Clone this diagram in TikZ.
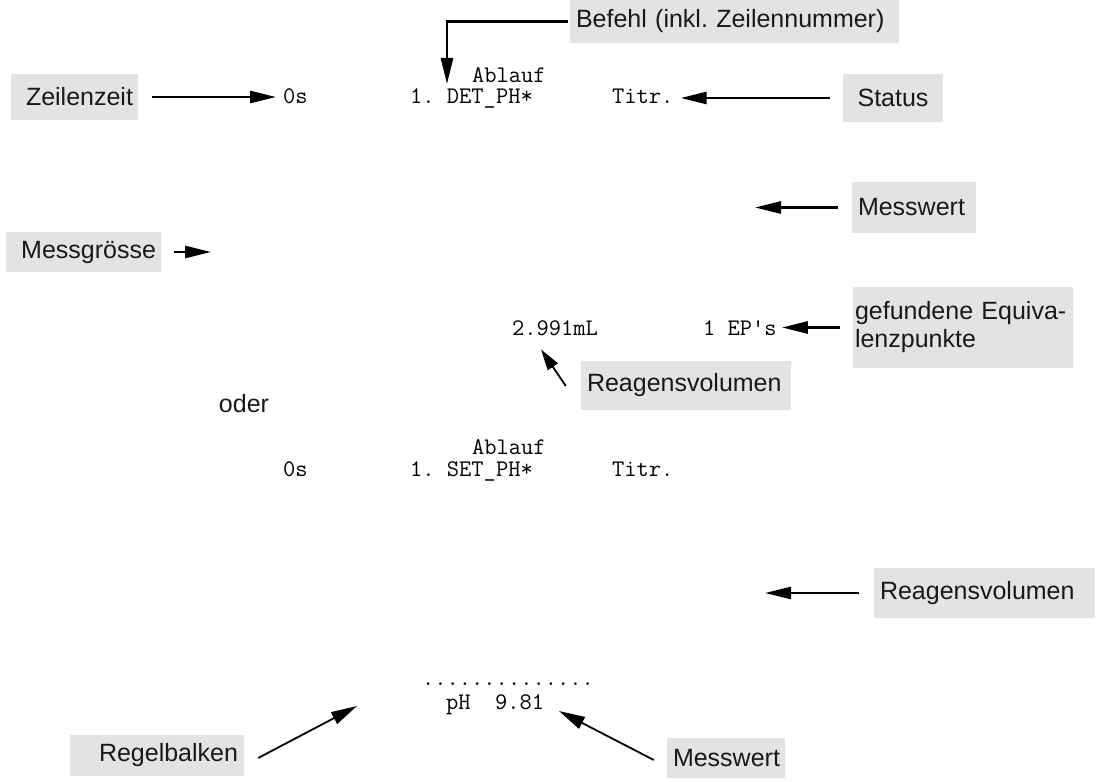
\documentclass[tikz,border=0pt]{standalone}
\usepackage{fontspec}
\setmainfont{Liberation Sans}
\usetikzlibrary{arrows.meta,calc,positioning}

\begin{document}
\frenchspacing
\begin{tikzpicture}[x=1pt, y=-1pt, >={Triangle[length=26pt,width=12pt]},
	lbl/.style={fill=black!11, inner ysep=0pt, inner xsep=6pt, text=black!90, font=\fontsize{25}{28}\selectfont},
	disp/.style={inner sep=0pt, anchor=base west, font=\ttfamily\fontsize{23.8}{26}\selectfont},
	pfeil/.style={line width = 2.6pt, ->},
	pfeilb/.style={line width = 1.8pt, -{Triangle[length=26pt,width=13pt]}}]
	\useasboundingbox (0,0) rectangle (1099,781);

		% Anzeige waehrend DET_PH
		\node (abl1) at (472,83) [disp] {Ablauf};
		\node (t0s) at (283,104) [disp] {0s};
		\node (cmd1) at (410,104) [disp] {1. DET\_PH*};
		\node (titr1) at (612,104) [disp] {Titr.};
		\node (vol) at (512,335) [disp] {2.991mL};
		\node (eps) at (703,335) [disp] {1 EP\textquotesingle s};

		\node (befehl) at (734.5,21.5) [lbl, text width = 317pt, minimum height = 43pt, align = left] {Befehl (inkl. Zeilennummer)};
		\node (zeit) at (74.5,97) [lbl, text width = 117pt, minimum height = 46pt, inner xsep = 5pt, align = right] {Zeilenzeit};
		\node (status) at (893,98) [lbl, text width = 88pt, minimum height = 48pt, align = center] {Status};
		\node (messw1) at (914,207.5) [lbl, text width = 112pt, minimum height = 51pt, align = left] {Messwert};
		\node (messgr) at (83.5,252) [lbl, text width = 145pt, minimum height = 40pt, inner xsep = 5pt, align = right] {Messgr\"osse};
		\node (equiv) at (963,327.5) [lbl, text width = 216pt, minimum height = 81pt, inner xsep = 2pt, align = left] {gefundene Equiva-\\lenzpunkte};
		\node (reag1) at (686,385.5) [lbl, text width = 198pt, minimum height = 49pt, align = left] {Reagensvolumen};

		\coordinate (cmdtip) at (447,84);
		\coordinate (mwtip1) at (755,207.5);
		\coordinate (mgtip) at (211,252);

		\draw [pfeil, shorten <= 2pt] (befehl.west) -| (cmdtip);
		\draw [pfeil, shorten <= 14pt, shorten >= 7pt] (zeit.east) -- (zeit.east -| t0s.west);
		\draw [pfeil, shorten <= 13pt, shorten >= 7pt] (status.west) -- (status.west -| titr1.east);
		\draw [pfeil, shorten <= 14pt] (messw1.west) -- (mwtip1);
		\draw [pfeil, shorten <= 13pt] (messgr.east) -- (mgtip);
		\draw [pfeil, shorten <= 13pt, shorten >= 5pt] (equiv.west) -- (equiv.west -| eps.east);
		\draw [pfeilb, -{Triangle[length=21pt,width=12pt]}] ($(reag1.west)+(-15,0.5)$) -- ($(vol.south)+(-14,14)$);

		\node (oder) at (244,404) [font=\fontsize{25}{28}\selectfont, text=black!90] {oder};

		% Anzeige waehrend SET_PH
		\node (abl2) at (472,454) [disp] {Ablauf};
		\node (t0s2) at (283,476) [disp] {0s};
		\node (cmd2) at (410,476) [disp] {1. SET\_PH*};
		\node (titr2) at (612,476) [disp] {Titr.};
		\node (dots) at (422,685) [disp] {..............};
		\node (phval) at (446,709) [disp] {pH\ \ 9.81};

		\node (reag2) at (984.5,593) [lbl, text width = 209pt, minimum height = 50pt, align = left] {Reagensvolumen};
		\node (regel) at (157,755.5) [lbl, text width = 162pt, minimum height = 41pt, align = right] {Regelbalken};
		\node (messw2) at (726,758) [lbl, text width = 106pt, minimum height = 40pt, align = left] {Messwert};

		\coordinate (rvtip2) at (765,593);
		\coordinate (rbtip) at (357,706);
		\coordinate (mwtip2) at (559,711);

		\draw [pfeil, shorten <= 15pt] (reag2.west) -- (rvtip2);
		\draw [pfeilb] ($(regel.east)+(14,2.5)$) -- (rbtip);
		\draw [pfeilb] ($(messw2.west)+(-13,2)$) -- (mwtip2);
	\end{tikzpicture}
\end{document}
